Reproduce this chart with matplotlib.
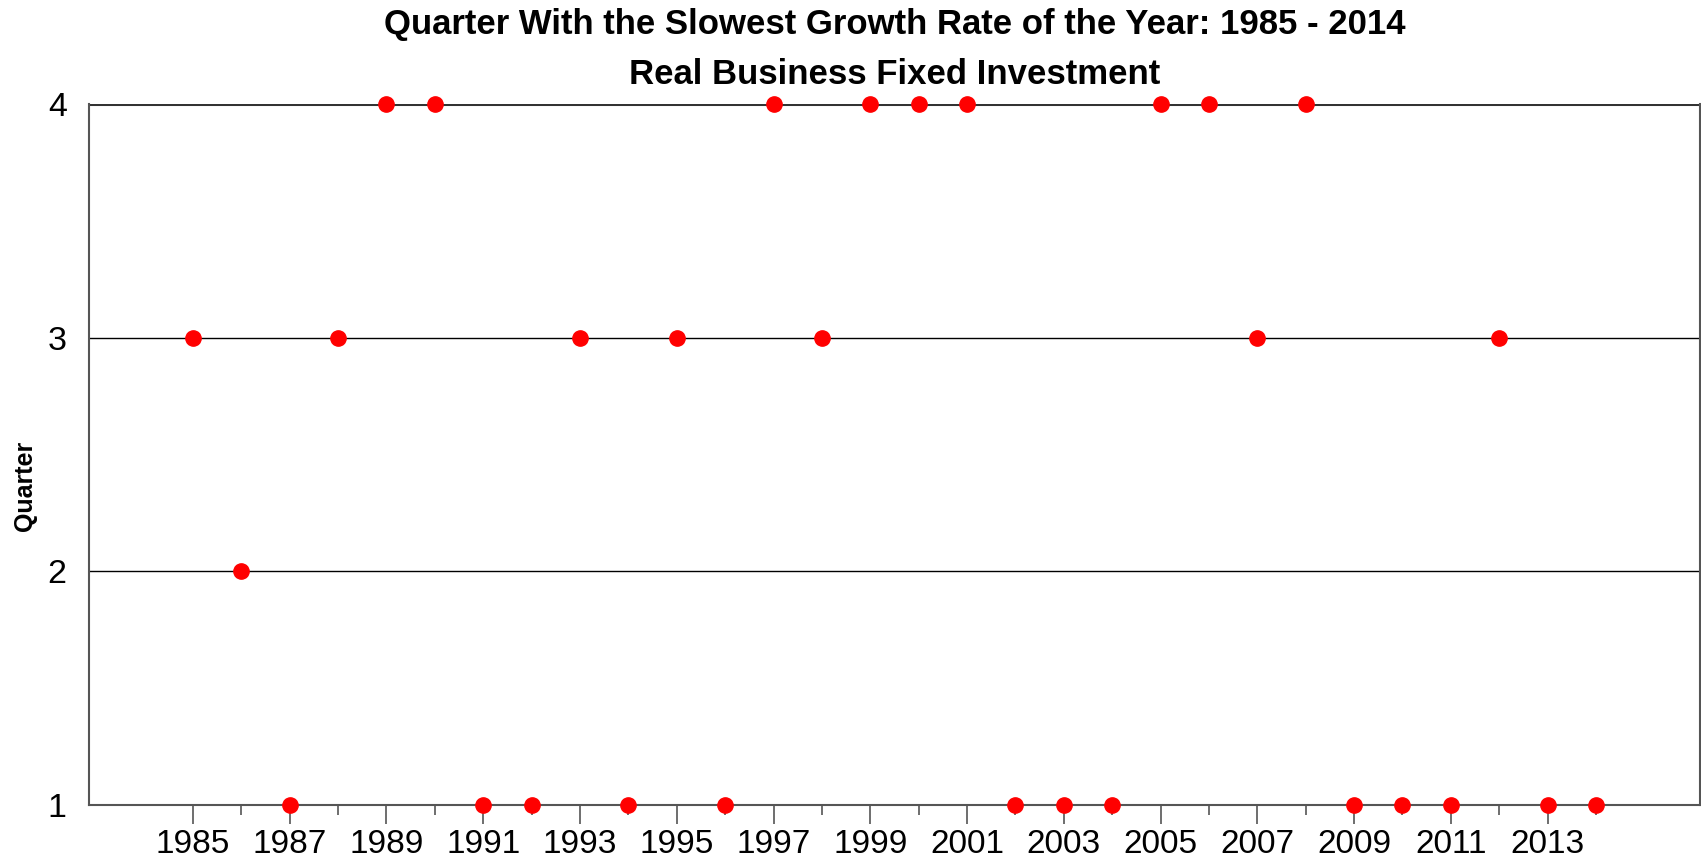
import numpy as np
import matplotlib.pyplot as plt

plt.rcParams['font.family'] = ['Liberation Sans', 'DejaVu Sans']

years = list(range(1985, 2015))
quarter = [3, 2, 1, 3, 4, 4, 1, 1, 3, 1,
           3, 1, 4, 3, 4, 4, 4, 1, 1, 1,
           4, 4, 3, 4, 1, 1, 1, 3, 1, 1]

fig = plt.figure(figsize=(17.01, 8.63), dpi=100)
ax = fig.add_axes([0.0523, 0.0672, 0.9471, 0.8123])

ax.axhline(2, color='black', lw=1, zorder=1)
ax.axhline(3, color='black', lw=1, zorder=1)
ax.axhline(4, color='#333333', lw=2.2, zorder=1)

ax.plot(years, quarter, linestyle='none', marker='o', color='red',
        markersize=11, clip_on=False, zorder=3)

ax.set_xlim(1982.85, 2016.15)
ax.set_ylim(1, 4)

ax.set_xticks(years[::2])
ax.set_xticklabels([str(y) for y in years[::2]])
ax.set_xticks(years[1::2], minor=True)
ax.tick_params(axis='x', which='major', length=14, width=1.2, color='#555555',
               labelsize=24, pad=3)
ax.tick_params(axis='x', which='minor', length=7, width=1.2, color='#555555')

ax.set_yticks([1, 2, 3, 4])
ax.tick_params(axis='y', length=0, labelsize=24.5, pad=16)

for s in ['left', 'right', 'bottom']:
    ax.spines[s].set_color('#555555')
    ax.spines[s].set_linewidth(1.5)
ax.spines['top'].set_visible(False)

ax.set_ylabel('Quarter', fontsize=18, fontweight='bold')
ax.yaxis.set_label_coords(-0.032, 0.455)

fig.text(0.526, 0.972, 'Quarter With the Slowest Growth Rate of the Year: 1985 - 2014',
         ha='center', va='center', fontsize=25, fontweight='bold')
fig.text(0.526, 0.914, 'Real Business Fixed Investment',
         ha='center', va='center', fontsize=25, fontweight='bold')

fig.savefig('out.png', dpi=100)
